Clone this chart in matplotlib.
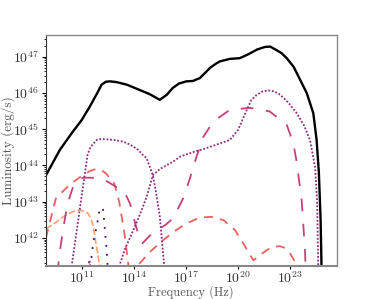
import numpy as np
import matplotlib
matplotlib.use("Agg")
import matplotlib.pyplot as plt
from matplotlib.ticker import LogLocator, NullFormatter

plt.rcParams['font.family'] = 'serif'
plt.rcParams['font.serif'] = ['cmr10', 'DejaVu Serif']
plt.rcParams['mathtext.fontset'] = 'cm'
plt.rcParams['axes.formatter.use_mathtext'] = True

# log10(frequency / Hz), log10(luminosity / erg s^-1)
total_x = [8.95, 9.75, 10.43, 11.0, 11.48, 11.9, 12.15, 12.4, 12.63, 13.0, 13.59, 14.25, 14.9, 15.5,
           15.9, 16.25, 16.6, 17.03, 17.4, 17.8, 18.1, 18.38, 18.7, 18.95, 19.52, 20.1, 20.6, 21.1,
           21.55, 21.85, 22.11, 22.5, 22.8, 23.2, 23.47, 23.95, 24.33, 24.52, 24.65, 24.75, 24.81]
total_y = [43.73, 44.43, 44.89, 45.25, 45.63, 46.0, 46.23, 46.31, 46.32, 46.3, 46.23, 46.1, 45.97, 45.81,
           45.95, 46.14, 46.26, 46.32, 46.33, 46.41, 46.55, 46.69, 46.8, 46.87, 46.94, 46.96, 47.07, 47.2,
           47.27, 47.28, 47.21, 47.1, 46.96, 46.72, 46.46, 46.0, 45.44, 44.7, 43.8, 42.5, 41.0]

syn_x = [10.42, 11.34, 11.5, 11.86, 12.1, 12.44, 12.9, 13.38, 13.8, 14.25, 14.5, 14.74, 15.1,
         15.3, 15.5, 15.7, 15.8]
syn_y = [41.2, 44.29, 44.5, 44.7, 44.73, 44.72, 44.7, 44.66, 44.57, 44.43, 44.3, 44.2, 43.73,
         43.2, 42.58, 41.5, 41.0]

ic_x = [13.15, 13.5, 13.97, 14.4, 14.74, 15.1, 15.5, 16.25, 16.7, 17.5, 18.0, 18.8, 19.52, 20.0,
        20.5, 20.77, 21.08, 21.4, 21.75, 22.1, 22.42, 22.9, 23.38, 23.8, 24.14, 24.43, 24.55, 24.62]
ic_y = [41.2, 41.7, 42.21, 42.7, 43.13, 43.73, 43.9, 44.1, 44.25, 44.38, 44.45, 44.58, 44.7, 44.98,
        45.53, 45.81, 45.95, 46.04, 46.07, 46.04, 45.95, 45.73, 45.44, 45.1, 44.7, 43.96, 43.0, 41.0]

small_x = [11.33, 11.45, 11.57]
small_y = [41.0, 41.38, 41.0]

mag_x = [9.6, 9.72, 9.91, 10.1, 10.29, 10.5, 10.77, 11.1, 11.5, 12.01, 12.5, 12.97, 13.2, 13.55,
         13.78, 14.06, 14.35, 14.5, 14.9, 15.3, 15.8, 16.27, 16.84, 17.23, 17.61, 18.01, 18.57,
         19.52, 20.67, 21.82, 22.8, 23.18, 23.38, 23.66, 23.85, 23.9]
mag_y = [41.0, 41.52, 42.17, 42.7, 43.09, 43.4, 43.6, 43.66, 43.66, 43.64, 43.55, 43.41, 43.38, 43.18,
         42.95, 42.44, 41.94, 41.85, 42.05, 42.2, 42.35, 42.54, 43.09, 43.64, 44.24, 44.79, 45.21,
         45.53, 45.59, 45.49, 45.12, 44.62, 44.07, 43.04, 41.66, 41.0]

sal_x = [8.95, 9.08, 9.52, 10.29, 11.06, 11.5, 11.82, 12.1, 12.4, 12.88, 13.16, 13.45, 13.6, 13.7,
         13.9, 14.1, 14.35, 14.9, 15.7, 16.3, 17.03, 17.8, 18.49, 19.16, 19.83, 20.31, 20.6, 20.89,
         21.2, 21.65, 22.0, 22.42, 22.7, 22.99, 23.2, 23.38]
sal_y = [42.0, 42.26, 43.09, 43.46, 43.73, 43.85, 43.9, 43.88, 43.78, 43.5, 43.0, 42.17, 41.6, 41.2,
         40.9, 41.2, 41.3, 41.6, 41.94, 42.17, 42.4, 42.56, 42.58, 42.49, 42.21, 41.84, 41.6, 41.38,
         41.5, 41.66, 41.75, 41.77, 41.72, 41.57, 41.4, 41.2]

org_x = [8.95, 9.56, 9.94, 10.3, 10.6, 10.9, 11.2, 11.38, 11.57, 11.67, 11.86, 11.95, 12.05]
org_y = [42.25, 42.44, 42.58, 42.68, 42.74, 42.77, 42.72, 42.67, 42.49, 42.3, 41.75, 41.5, 41.2]

navy_x = [11.5, 11.67, 11.86, 12.05, 12.15, 12.24, 12.34, 12.44, 12.5]
navy_y = [41.2, 41.89, 42.3, 42.81, 42.84, 42.77, 42.21, 41.66, 41.2]

xticks_exp = [11, 14, 17, 20, 23]


def p(v):
    return 10.0 ** np.array(v)


fig = plt.figure(figsize=(3.74, 2.99), dpi=100)
ax = fig.add_axes([0.123, 0.110, 0.777, 0.773])

ax.plot(p(org_x), p(org_y), color='#fea16e', lw=1.2, ls=(0, (4, 1.5)))
ax.plot(p(sal_x), p(sal_y), color='#f1605d', lw=1.3, ls=(0, (5, 4)))
ax.plot(p(mag_x), p(mag_y), color='#c8407a', lw=1.3, ls=(0, (7, 7)))
ax.plot(p(syn_x), p(syn_y), color='#8c2981', lw=1.3, ls=(0, (1, 1)))
ax.plot(p(ic_x), p(ic_y), color='#8c2981', lw=1.3, ls=(0, (1, 1)))
ax.plot(p(small_x), p(small_y), color='#8c2981', lw=1.3, ls=(0, (1, 1)))
ax.plot(p(navy_x), p(navy_y), color='#3b0f70', lw=1.3, ls=(0, (1, 4)))
ax.plot(p(total_x), p(total_y), color='black', lw=1.7)

ax.set_xscale('log')
ax.set_yscale('log')
ax.set_xlim(10 ** 8.95, 10 ** 25.67)
ax.set_ylim(10 ** 41.22, 10 ** 47.6)
ax.set_xticks([10.0 ** e for e in xticks_exp])
ax.xaxis.set_minor_locator(LogLocator(base=10, subs=[]))
ax.xaxis.set_minor_formatter(NullFormatter())
ax.yaxis.set_major_locator(LogLocator(base=10, numticks=20))
ax.yaxis.set_minor_locator(LogLocator(base=10, subs=np.arange(2, 10), numticks=20))
ax.yaxis.set_minor_formatter(NullFormatter())

ax.tick_params(axis='both', which='major', labelsize=10, length=3, width=0.8, colors='black',
               labelcolor='#333333')
ax.tick_params(axis='x', which='major', pad=0.5, length=2.5)
ax.tick_params(axis='y', which='major', pad=2)
ax.tick_params(axis='y', which='minor', length=1.8, width=0.6)

for s in ['top', 'right']:
    ax.spines[s].set_color('#888888')
    ax.spines[s].set_linewidth(1.0)
ax.spines['bottom'].set_color('#888888')
ax.spines['bottom'].set_linewidth(1.5)
ax.spines['left'].set_color('#333333')
ax.spines['left'].set_linewidth(0.8)

ax.set_xlabel('Frequency (Hz)', fontsize=9, color='#555555')
ax.set_ylabel('Luminosity (erg/s)', fontsize=9.5, color='#555555')
ax.xaxis.set_label_coords(0.5, -0.082)
ax.yaxis.set_label_coords(-0.105, 0.5)

fig.savefig('out.png', dpi=100)
